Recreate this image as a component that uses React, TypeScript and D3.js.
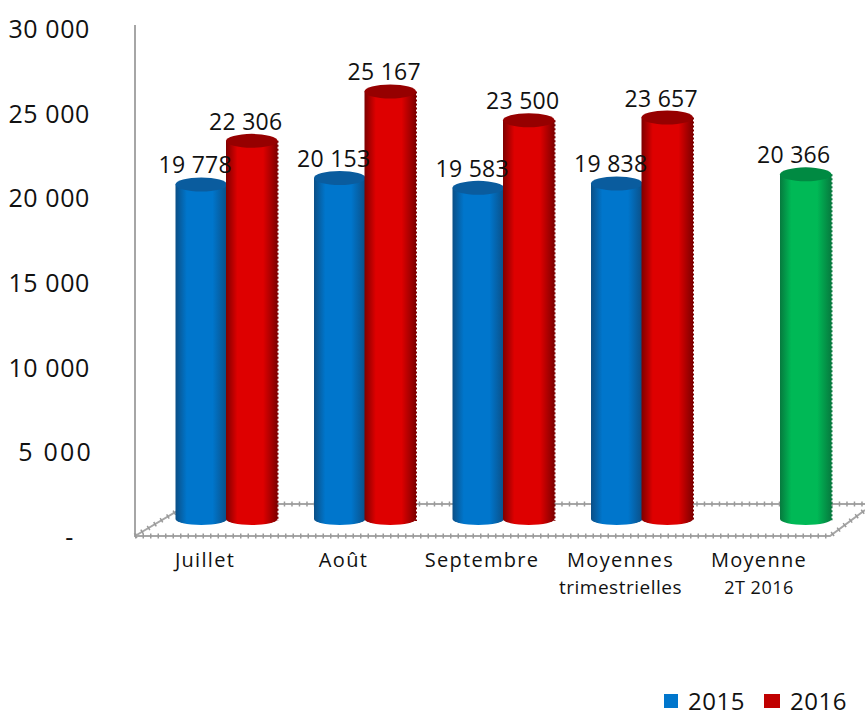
import React from "react";
import * as d3 from "d3";

const categories = [["Juillet"], ["Août"], ["Septembre"], ["Moyennes", "trimestrielles"], ["Moyenne", "2T 2016"]];
const values2015: (number | null)[] = [19778, 20153, 19583, 19838, null];
const values2016: (number | null)[] = [22306, 25167, 23500, 23657, null];
const valuesAverage: (number | null)[] = [null, null, null, null, 20366];
const axisTicks = [0, 5000, 10000, 15000, 20000, 25000, 30000];
const legendItems = ["2015", "2016"];

const W = 865, H = 711;
const FONT = "'Open Sans', 'Noto Sans', sans-serif";
const fmt = (v: number) => (v === 0 ? "-" : d3.format(",")(v).replace(",", " "));

const axisY = d3.scaleLinear().domain([0, 30000]).range([537, 29]);
const barY = d3.scaleLinear().domain([0, 30000]).range([526, 8]);
const band = d3.scaleBand<number>().domain(d3.range(5)).range([176, 868.5]).paddingInner(0).paddingOuter(0);
const sub = d3.scaleBand<number>().domain([0, 1]).range([0, 101]);
const BASE = 519;

const seriesDefs = [
  { values: values2015, slot: 0, id: "blue", edge: "#0B4F86", mid: "#0076CC", top: "#0A5C9E", labelDx: -5 },
  { values: values2016, slot: 1, id: "red", edge: "#7E0000", mid: "#DE0000", top: "#960000", labelDx: -5 },
  { values: valuesAverage, slot: 1, id: "green", edge: "#067A3E", mid: "#00B956", top: "#008A42", labelDx: -11 },
];

function Grad({ id, edge, mid }: { id: string; edge: string; mid: string }) {
  return (
    <linearGradient id={id} x1="0" x2="1" y1="0" y2="0">
      <stop offset="0" stopColor={edge} />
      <stop offset="0.22" stopColor={mid} />
      <stop offset="0.72" stopColor={mid} />
      <stop offset="1" stopColor={edge} />
    </linearGradient>
  );
}

export default function App() {
  const floorPath = d3.line()([[135, 536], [189, 504], [865, 504]]) as string;
  const floorFront = d3.line()([[135, 536], [830, 536], [865, 510]]) as string;
  return (
    <svg width={W} height={H} style={{ position: "absolute", left: 0, top: 0, background: "#fff" }} fontFamily={FONT}>
      <defs>
        {seriesDefs.map((s) => <Grad key={s.id} id={s.id} edge={s.edge} mid={s.mid} />)}
      </defs>
      <line x1={135} x2={135} y1={25} y2={537} stroke="#a6a6a6" strokeWidth={2} />
      {[floorPath, floorFront].map((d, i) => (
        <g key={i} fill="none">
          <path d={d} stroke="#a6a6a6" strokeWidth={2} />
          <path d={d} stroke="#9a9a9a" strokeWidth={5} strokeDasharray="1.5 6" />
        </g>
      ))}
      {axisTicks.map((t) => (
        <text key={t} x={t === 0 ? 74 : t === 5000 ? 93 : 90} y={axisY(t) + 9} textAnchor="end" fontSize={25} letterSpacing={t === 5000 ? 2.2 : 0.6} fill="#111">
          {fmt(t)}
        </text>
      ))}
      {seriesDefs.map((s) =>
        s.values.map((v, i) => {
          if (v == null) return null;
          const w = sub.bandwidth() + 1;
          const x = (band(i) as number) + (sub(s.slot) as number) - 0.5;
          const yTop = barY(v);
          const cx = x + w / 2;
          const body = `M${x},${yTop}L${x},${BASE}A${w / 2},6 0 0 0 ${x + w},${BASE}L${x + w},${yTop}Z`;
          return (
            <g key={s.id + i}>
              <path d={body} fill={`url(#${s.id})`} />
              {s.slot === 1 && (
                <line x1={x + w} x2={x + w} y1={yTop} y2={BASE + 2} stroke={s.edge} strokeWidth={2} strokeDasharray="2 2" />
              )}
              <ellipse cx={cx} cy={yTop} rx={w / 2} ry={7} fill={s.top} />
            </g>
          );
        })
      )}
      {seriesDefs.map((s) =>
        s.values.map((v, i) => {
          if (v == null) return null;
          const x = (band(i) as number) + (sub(s.slot) as number) + sub.bandwidth() / 2 + s.labelDx - 1;
          return (
            <text key={s.id + "l" + i} x={x} y={barY(v) - 11} textAnchor="middle" fontSize={23} letterSpacing={0.3} fill="#111">
              {fmt(v)}
            </text>
          );
        })
      )}
      {categories.map((lines, i) => (
        <text key={i} textAnchor="middle" fontSize={20} fill="#111">
          {lines.map((l, j) => (
            <tspan key={j} x={(band(i) as number) + 29} y={567 + j * 27} fontSize={j === 1 ? (i === 3 ? 19 : 18) : undefined} letterSpacing={j === 1 ? 0.5 : 1.3}>
              {l}
            </tspan>
          ))}
        </text>
      ))}
      {legendItems.map((l, i) => {
        const x = i === 0 ? 664 : 764;
        return (
          <g key={l}>
            <rect x={x} y={694} width={i === 0 ? 14 : 16} height={14} fill={i === 0 ? "#0076CC" : "#C00000"} />
            <text x={x + (i === 0 ? 24 : 26)} y={710} fontSize={24} letterSpacing={0.5} fill="#111">{l}</text>
          </g>
        );
      })}
    </svg>
  );
}
